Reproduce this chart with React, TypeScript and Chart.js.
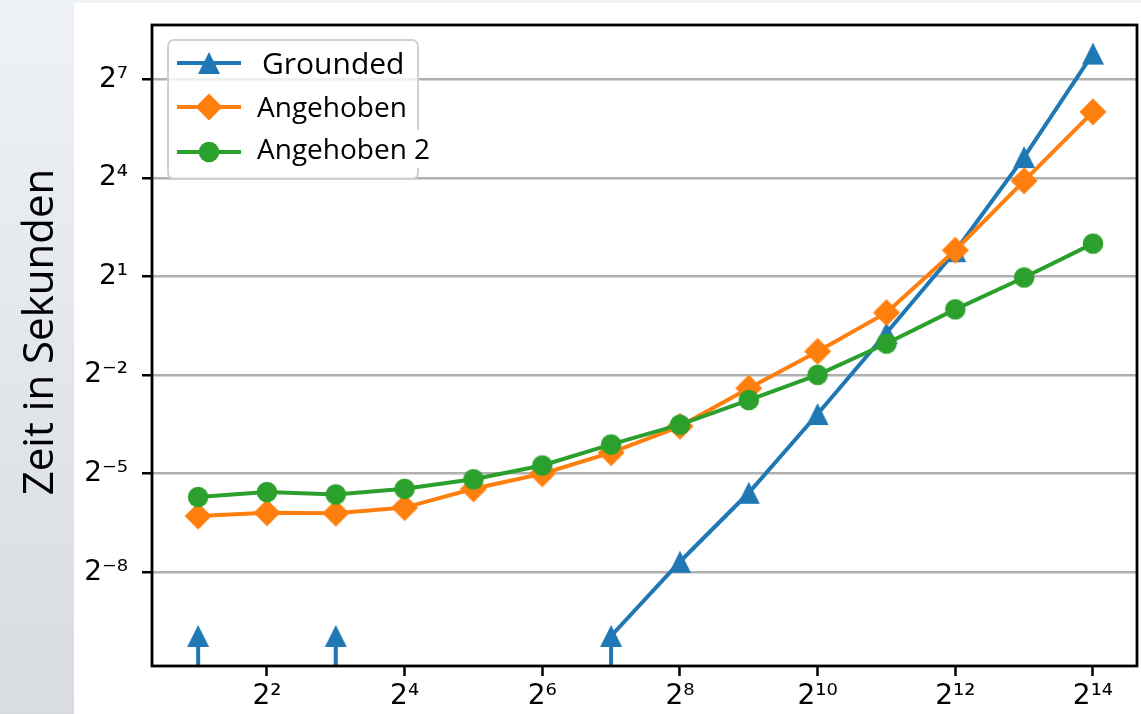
import React, { useEffect, useRef } from "react";
import { Chart, registerables } from "chart.js";

Chart.register(...registerables);

// ---- data (problem size n = 2^1 .. 2^14, time in seconds) ----
const sizes = [2, 4, 8, 16, 32, 64, 128, 256, 512, 1024, 2048, 4096, 8192, 16384];
const groundedTimes = [0.00102, 0, 0.00102, 0, 0, 0, 0.00102, 0.00488, 0.0209, 0.11, 0.607, 3.41, 24.8, 219.8];
const angehobenTimes = [0.01278, 0.0137, 0.0136, 0.0153, 0.02272, 0.03125, 0.0487, 0.0848, 0.1895, 0.412, 0.933, 3.48, 15.03, 64.4];
const angehoben2Times = [0.01911, 0.0212, 0.0202, 0.02272, 0.02778, 0.03716, 0.0579, 0.0878, 0.1477, 0.2514, 0.486, 1.0, 1.959, 4.0];
const seriesLabels = ["Grounded", "Angehoben", "Angehoben 2"];
const seriesColors = ["#1f77b4", "#ff7f0e", "#2ca02c"];
const xTickValues = [4, 16, 64, 256, 1024, 4096, 16384];
const yTickValues = [2 ** -8, 2 ** -5, 2 ** -2, 2 ** 1, 2 ** 4, 2 ** 7];
const yAxisTitle = "Zeit in Sekunden";

// axis limits (log2 exponents)
const X_MIN_EXP = 0.33;
const X_MAX_EXP = 14.64;
const Y_MIN_EXP = -10.85;
const Y_MAX_EXP = 8.65;

// zero values are clipped to a tiny positive value, like matplotlib's log scale
const CLIP_TINY = 1e-300;

const SUP: Record<string, string> = {
  "0": "⁰", "1": "¹", "2": "²", "3": "³", "4": "⁴",
  "5": "⁵", "6": "⁶", "7": "⁷", "8": "⁸", "9": "⁹", "-": "⁻",
};
const pow2Label = (v: number) => {
  const e = Math.round(Math.log2(v));
  return "2" + String(e).split("").map((c) => SUP[c] || c).join("");
};

type MarkerKind = "tri" | "dia" | "circ";

function drawMarkerPath(ctx: CanvasRenderingContext2D, kind: MarkerKind, cx: number, cy: number) {
  ctx.beginPath();
  if (kind === "tri") {
    ctx.moveTo(cx, cy - 11);
    ctx.lineTo(cx + 11, cy + 11);
    ctx.lineTo(cx - 11, cy + 11);
    ctx.closePath();
  } else if (kind === "dia") {
    ctx.moveTo(cx, cy - 13.5);
    ctx.lineTo(cx + 13.5, cy);
    ctx.lineTo(cx, cy + 13.5);
    ctx.lineTo(cx - 13.5, cy);
    ctx.closePath();
  } else {
    ctx.arc(cx, cy, 10.3, 0, Math.PI * 2);
  }
}

function makeMarker(kind: MarkerKind, color: string): HTMLCanvasElement {
  const c = document.createElement("canvas");
  c.width = 30;
  c.height = 30;
  const ctx = c.getContext("2d")!;
  ctx.fillStyle = color;
  drawMarkerPath(ctx, kind, 15, 15);
  ctx.fill();
  return c;
}

const markerKinds: MarkerKind[] = ["tri", "dia", "circ"];

export default function App() {
  const canvasRef = useRef<HTMLCanvasElement | null>(null);

  useEffect(() => {
    document.body.style.margin = "0";
    const canvas = canvasRef.current!;
    const series = [groundedTimes, angehobenTimes, angehoben2Times];

    const datasets = series.map((vals, i) => ({
      label: seriesLabels[i],
      data: sizes.map((x, j) => ({ x, y: vals[j] > 0 ? vals[j] : CLIP_TINY })),
      borderColor: seriesColors[i],
      backgroundColor: seriesColors[i],
      borderWidth: 4,
      pointStyle: makeMarker(markerKinds[i], seriesColors[i]) as any,
      pointRadius: 11,
      pointHoverRadius: 11,
      tension: 0,
      order: 3 - i,
    }));

    const bgPlugin = {
      id: "bg",
      beforeDraw(chart: any) {
        const ctx = chart.ctx as CanvasRenderingContext2D;
        ctx.save();
        ctx.fillStyle = "#ffffff";
        ctx.fillRect(0, 0, chart.width, chart.height);
        const g = ctx.createLinearGradient(0, 0, 0, chart.height);
        g.addColorStop(0, "#eef1f5");
        g.addColorStop(1, "#d8dbdf");
        ctx.fillStyle = g;
        ctx.fillRect(0, 0, 74, chart.height);
        ctx.fillStyle = "#eef1f5";
        ctx.fillRect(74, 0, chart.width - 74, 3);
        ctx.restore();
      },
    };

    const framePlugin = {
      id: "frame",
      afterDatasetsDraw(chart: any) {
        const { left, top, right, bottom } = chart.chartArea;
        const ctx = chart.ctx as CanvasRenderingContext2D;
        ctx.save();
        ctx.strokeStyle = "#000";
        ctx.lineWidth = 2.8;
        ctx.strokeRect(left, top, right - left, bottom - top);
        ctx.restore();
      },
    };

    const titleLegendPlugin = {
      id: "titleLegend",
      afterDraw(chart: any) {
        const ctx = chart.ctx as CanvasRenderingContext2D;
        ctx.save();
        // y axis title
        ctx.translate(53, 332);
        ctx.rotate(-Math.PI / 2);
        ctx.fillStyle = "#000";
        ctx.font = '42px "Open Sans"';
        ctx.textAlign = "center";
        ctx.textBaseline = "alphabetic";
        ctx.fillText(yAxisTitle, 0, 0);
        ctx.restore();

        // legend box
        ctx.save();
        const bx = 168, by = 40, bw = 250, bh = 139, r = 6;
        ctx.beginPath();
        ctx.moveTo(bx + r, by);
        ctx.arcTo(bx + bw, by, bx + bw, by + bh, r);
        ctx.arcTo(bx + bw, by + bh, bx, by + bh, r);
        ctx.arcTo(bx, by + bh, bx, by, r);
        ctx.arcTo(bx, by, bx + bw, by, r);
        ctx.closePath();
        ctx.fillStyle = "rgba(255,255,255,0.8)";
        ctx.fill();
        ctx.strokeStyle = "#d0d0d0";
        ctx.lineWidth = 2;
        ctx.stroke();

        // white text box behind the last entry (overlaps the legend border)
        ctx.fillStyle = "#ffffff";
        ctx.fillRect(254, 130, 178, 38);

        const rowY = [63, 107, 152];
        const baseY = [74, 117, 159];
        const textX = [262, 257, 257];
        const fonts = ['30px "Open Sans"', '28px "Open Sans"', '28px "Open Sans"'];
        for (let i = 0; i < 3; i++) {
          ctx.strokeStyle = seriesColors[i];
          ctx.lineWidth = 4;
          ctx.beginPath();
          ctx.moveTo(177, rowY[i]);
          ctx.lineTo(241, rowY[i]);
          ctx.stroke();
          ctx.fillStyle = seriesColors[i];
          drawMarkerPath(ctx, markerKinds[i], 209, rowY[i]);
          ctx.fill();
          ctx.fillStyle = "#000";
          ctx.font = fonts[i];
          ctx.textAlign = "left";
          ctx.textBaseline = "alphabetic";
          ctx.fillText(seriesLabels[i], textX[i], baseY[i]);
        }
        ctx.restore();
      },
    };

    const tickFont = { family: '"DejaVu Sans"', size: 28 };

    const chart = new Chart(canvas, {
      type: "line",
      data: { datasets: datasets as any },
      options: {
        animation: false,
        responsive: false,
        maintainAspectRatio: false,
        layout: { autoPadding: false, padding: { top: 25, right: 4, left: 0, bottom: 0 } },
        plugins: {
          legend: { display: false },
          tooltip: { enabled: false },
        },
        events: [],
        scales: {
          x: {
            type: "logarithmic",
            bounds: "data",
            min: 2 ** X_MIN_EXP,
            max: 2 ** X_MAX_EXP,
            afterBuildTicks: (s: any) => {
              s.ticks = xTickValues.map((v) => ({ value: v }));
            },
            afterFit: (s: any) => {
              s.height = 48;
              s.paddingLeft = 0;
              s.paddingRight = 0;
            },
            ticks: {
              callback: (v: any) => pow2Label(Number(v)),
              font: tickFont,
              color: "#000",
              padding: 4,
              maxRotation: 0,
              minRotation: 0,
              autoSkip: false,
            },
            grid: {
              display: true,
              drawOnChartArea: false,
              drawTicks: true,
              tickLength: 10,
              tickColor: "#000",
              tickWidth: 2.5,
            },
            border: { display: false },
          },
          y: {
            type: "logarithmic",
            bounds: "data",
            min: 2 ** Y_MIN_EXP,
            max: 2 ** Y_MAX_EXP,
            afterBuildTicks: (s: any) => {
              s.ticks = yTickValues.map((v) => ({ value: v }));
            },
            afterFit: (s: any) => {
              s.width = 152;
              s.paddingTop = 0;
              s.paddingBottom = 0;
            },
            ticks: {
              callback: (v: any) => pow2Label(Number(v)),
              font: tickFont,
              color: "#000",
              padding: 14,
              autoSkip: false,
            },
            grid: {
              display: true,
              drawOnChartArea: true,
              color: "#b0b0b0",
              lineWidth: 2.5,
              drawTicks: true,
              tickLength: 10,
              tickColor: "#000",
              tickWidth: 2.5,
            },
            border: { display: false },
          },
        },
      } as any,
      plugins: [bgPlugin, framePlugin, titleLegendPlugin],
    });

    const fontsReady = (document as any).fonts
      ? Promise.all([
          (document as any).fonts.load('42px "Open Sans"'),
          (document as any).fonts.load('28px "DejaVu Sans"'),
        ])
      : Promise.resolve();
    fontsReady.then(() => chart.update()).catch(() => {});

    return () => {
      chart.destroy();
    };
  }, []);

  return (
    <div style={{ position: "relative", width: 1141, height: 714 }}>
      <canvas ref={canvasRef} width={1141} height={714} style={{ display: "block" }} />
    </div>
  );
}
